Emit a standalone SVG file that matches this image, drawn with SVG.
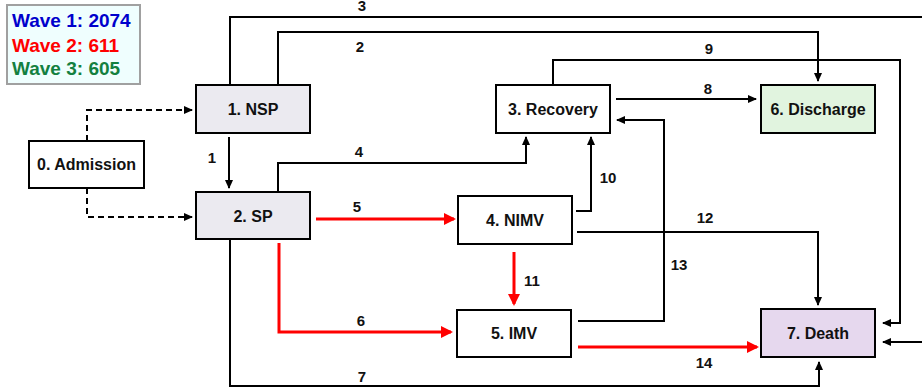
<svg xmlns="http://www.w3.org/2000/svg" width="922" height="387" viewBox="0 0 922 387">
<style>
  .box{stroke:#000;stroke-width:2}
  .nt{font-family:"Liberation Sans",Arial,sans-serif;font-weight:bold;font-size:16px;text-anchor:middle;fill:#111}
  .lb{font-family:"Liberation Sans",Arial,sans-serif;font-weight:bold;font-size:15px;text-anchor:middle;fill:#111}
  .lg{font-family:"Liberation Sans",Arial,sans-serif;font-weight:bold;font-size:19px}
  .blk{fill:none;stroke:#000;stroke-width:2;marker-end:url(#ab)}
  .dsh{fill:none;stroke:#000;stroke-width:2;stroke-dasharray:6 4;marker-end:url(#ab)}
  .red{fill:none;stroke:#ff0000;stroke-width:3;marker-end:url(#ar)}
</style>
<defs>
  <marker id="ab" markerUnits="userSpaceOnUse" markerWidth="10" markerHeight="10" refX="8" refY="4" orient="auto">
    <path d="M0,0 L9,4 L0,8 z" fill="#000"/>
  </marker>
  <marker id="ar" markerUnits="userSpaceOnUse" markerWidth="14" markerHeight="14" refX="10" refY="6" orient="auto">
    <path d="M0,0 L12,6 L0,12 z" fill="#ff0000"/>
  </marker>
</defs>
<rect width="922" height="387" fill="#fff"/>

<g id="legend">
  <rect x="7" y="5" width="133" height="79" fill="#effefe" stroke="#a0a0a0" stroke-width="2"/>
  <text class="lg" x="12" y="27" fill="#0000cc">Wave 1: 2074</text>
  <text class="lg" x="12" y="52" fill="#ff0000">Wave 2: 611</text>
  <text class="lg" x="12" y="75" fill="#138040">Wave 3: 605</text>
</g>

<g id="connectors">
  <path class="blk" d="M230,85 V17 H926 V342 H883"/>
  <path class="blk" d="M553,85 V60 H900 V323 H883"/>
  <path class="blk" d="M278,85 V32 H818 V81"/>
  <path class="blk" d="M616,99 H756"/>
  <path class="blk" d="M278,191 V163 H526 V137"/>
  <path class="blk" d="M576,211 H591 V137"/>
  <path class="blk" d="M578,321 H664 V120 H617"/>
  <path class="blk" d="M577,232 H818 V305"/>
  <path class="blk" d="M230,240 V386 H819 V362"/>
  <path class="blk" d="M229,137 V188"/>
  <path class="dsh" d="M87,141 V110 H192"/>
  <path class="dsh" d="M87,188 V217 H192"/>
  <path class="red" d="M316,219 H454"/>
  <path class="red" d="M514,252 V304"/>
  <path class="red" d="M279,243 V332 H451"/>
  <path class="red" d="M578,347 H757"/>
</g>

<g id="labels">
  <text class="lb" x="212" y="163">1</text>
  <text class="lb" x="360" y="52">2</text>
  <text class="lb" x="362" y="11">3</text>
  <text class="lb" x="359" y="157">4</text>
  <text class="lb" x="357" y="212">5</text>
  <text class="lb" x="361" y="326">6</text>
  <text class="lb" x="362" y="382">7</text>
  <text class="lb" x="708" y="94">8</text>
  <text class="lb" x="709" y="54">9</text>
  <text class="lb" x="608" y="183">10</text>
  <text class="lb" x="532" y="286">11</text>
  <text class="lb" x="705" y="223">12</text>
  <text class="lb" x="679" y="270">13</text>
  <text class="lb" x="704" y="368">14</text>
</g>

<g id="n0"><rect class="box" x="29" y="141" width="115" height="47" fill="#fff"/><text class="nt" x="86.5" y="169.5">0. Admission</text></g>
<g id="n1"><rect class="box" x="196" y="85" width="114" height="48" fill="#ebeaf0"/><text class="nt" x="253" y="115">1. NSP</text></g>
<g id="n2"><rect class="box" x="196" y="192" width="114" height="47" fill="#ebeaf0"/><text class="nt" x="253" y="221.5">2. SP</text></g>
<g id="n3"><rect class="box" x="496" y="85" width="114" height="48" fill="#fff"/><text class="nt" x="553" y="115">3. Recovery</text></g>
<g id="n4"><rect class="box" x="458" y="196" width="114" height="48" fill="#fff"/><text class="nt" x="515" y="225.5">4. NIMV</text></g>
<g id="n5"><rect class="box" x="457" y="310" width="114" height="47" fill="#fff"/><text class="nt" x="514" y="339">5. IMV</text></g>
<g id="n6"><rect class="box" x="761" y="85" width="114" height="48" fill="#e1f4df"/><text class="nt" x="818" y="115">6. Discharge</text></g>
<g id="n7"><rect class="box" x="761" y="309" width="114" height="48" fill="#e6d8ee"/><text class="nt" x="818" y="339">7. Death</text></g>
</svg>
